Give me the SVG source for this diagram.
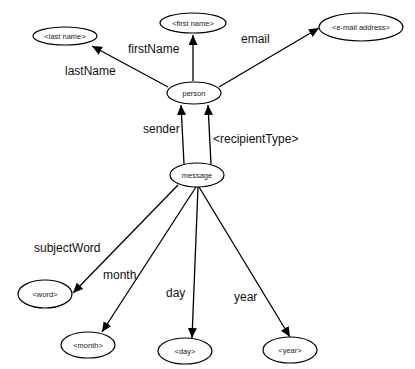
<svg xmlns="http://www.w3.org/2000/svg" width="415" height="369" viewBox="0 0 415 369">
<defs>
<marker id="arr" markerUnits="userSpaceOnUse" markerWidth="11" markerHeight="9" refX="10" refY="4.5" orient="auto">
<path d="M0,0 L10,4.5 L0,9 z" fill="#000"/>
</marker>
<style>
.n ellipse{fill:#fff;stroke:#000;stroke-width:1.2}
.n text{font-family:"Liberation Sans",Arial,sans-serif;font-size:7.5px;fill:#222;text-anchor:middle}
.e line{stroke:#000;stroke-width:1.3;marker-end:url(#arr)}
.e text{font-family:"Liberation Sans",Arial,sans-serif;font-size:12px;fill:#111}
</style>
</defs>
<rect width="415" height="369" fill="#fff"/>
<g class="e" id="connectors">
<line x1="168" y1="87" x2="92" y2="46"/>
<line x1="193" y1="81" x2="193" y2="35"/>
<line x1="219" y1="87" x2="319" y2="28"/>
<line x1="184" y1="164" x2="181" y2="105"/>
<line x1="211" y1="164" x2="208" y2="105"/>
<line x1="178" y1="185" x2="73" y2="293"/>
<line x1="196" y1="187" x2="102" y2="332"/>
<line x1="198" y1="187" x2="192" y2="338"/>
<line x1="199" y1="187" x2="290" y2="337"/>
<text x="65" y="75">lastName</text>
<text x="128" y="53">firstName</text>
<text x="241" y="43">email</text>
<text x="143" y="133">sender</text>
<text x="213" y="143">&lt;recipientType&gt;</text>
<text x="34" y="252">subjectWord</text>
<text x="103" y="279">month</text>
<text x="166" y="297">day</text>
<text x="234" y="301">year</text>
</g>
<g class="n" id="lastname"><ellipse cx="65" cy="36" rx="32" ry="9"/><text x="65" y="38.5">&lt;last name&gt;</text></g>
<g class="n" id="firstname"><ellipse cx="193" cy="23" rx="33" ry="10"/><text x="193" y="25.5">&lt;first name&gt;</text></g>
<g class="n" id="email"><ellipse cx="361" cy="27" rx="42" ry="14"/><text x="361" y="29.5">&lt;e-mail address&gt;</text></g>
<g class="n" id="person"><ellipse cx="194" cy="93" rx="27" ry="11"/><text x="194" y="95.5">person</text></g>
<g class="n" id="message"><ellipse cx="197" cy="175" rx="27" ry="12"/><text x="197" y="177.5">message</text></g>
<g class="n" id="word"><ellipse cx="45" cy="294" rx="27" ry="14"/><text x="45" y="296.5">&lt;word&gt;</text></g>
<g class="n" id="month"><ellipse cx="88" cy="345" rx="27" ry="13"/><text x="88" y="347.5">&lt;month&gt;</text></g>
<g class="n" id="day"><ellipse cx="185" cy="351" rx="27" ry="13"/><text x="185" y="353.5">&lt;day&gt;</text></g>
<g class="n" id="year"><ellipse cx="290" cy="350" rx="27" ry="13"/><text x="290" y="352.5">&lt;year&gt;</text></g>
</svg>
